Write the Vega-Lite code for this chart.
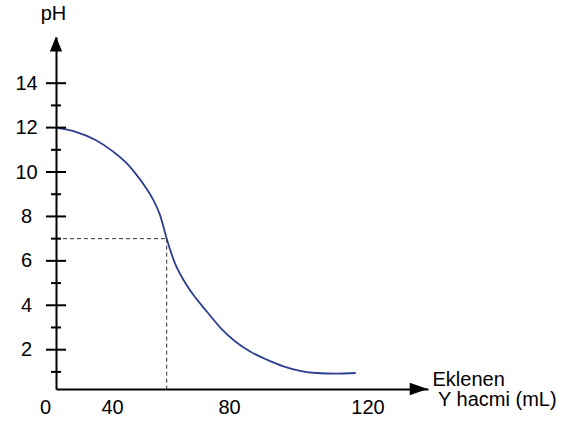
{
  "$schema": "https://vega.github.io/schema/vega-lite/v6.json",
  "width": 372,
  "height": 352,
  "autosize": {"type": "none"},
  "padding": {"left": 56, "top": 37, "right": 159, "bottom": 32},
  "background": "white",
  "config": {
    "view": {"stroke": null},
    "font": "Liberation Sans"
  },
  "datasets": {
    "curve": [
      {"hacim": 0, "pH": 12.0},
      {"hacim": 13.6, "pH": 11.82},
      {"hacim": 27.9, "pH": 11.45},
      {"hacim": 40.4, "pH": 10.92},
      {"hacim": 45.0, "pH": 10.4},
      {"hacim": 48.4, "pH": 9.87},
      {"hacim": 51.3, "pH": 9.35},
      {"hacim": 54.1, "pH": 8.75},
      {"hacim": 56.4, "pH": 8.07},
      {"hacim": 58.7, "pH": 7.0},
      {"hacim": 61.5, "pH": 5.9},
      {"hacim": 64.4, "pH": 5.15},
      {"hacim": 67.8, "pH": 4.47},
      {"hacim": 72.4, "pH": 3.72},
      {"hacim": 77.5, "pH": 2.93},
      {"hacim": 82.0, "pH": 2.35},
      {"hacim": 86.1, "pH": 1.92},
      {"hacim": 90.9, "pH": 1.55},
      {"hacim": 95.7, "pH": 1.25},
      {"hacim": 100.5, "pH": 1.05},
      {"hacim": 105.3, "pH": 0.95},
      {"hacim": 111.1, "pH": 0.92},
      {"hacim": 116.6, "pH": 0.95}
    ],
    "major": [{"v": 2}, {"v": 4}, {"v": 6}, {"v": 8}, {"v": 10}, {"v": 12}, {"v": 14}],
    "minor": [{"v": 1}, {"v": 3}, {"v": 5}, {"v": 7}, {"v": 9}, {"v": 11}, {"v": 13}],
    "one": [{}]
  },
  "layer": [
    {
      "data": {"name": "curve"},
      "mark": {"type": "line", "interpolate": "monotone", "color": "#2E3F92", "strokeWidth": 1.8},
      "encoding": {
        "x": {
          "field": "hacim",
          "type": "quantitative",
          "scale": {"domain": [0, 40, 80, 120, 137.5], "range": [0, 56, 173, 311.5, 372], "nice": false, "zero": false},
          "axis": {
            "values": [0, 40, 80, 120],
            "ticks": false,
            "tickSize": 0,
            "grid": false,
            "domain": true,
            "domainColor": "#000000",
            "domainWidth": 2,
            "labelFont": "Liberation Sans",
            "labelFontSize": 20,
            "labelColor": "#000000",
            "labelPadding": 8,
            "labelFlush": false,
            "labelOverlap": false,
            "labelOffset": {"condition": {"test": "datum.value === 0", "value": -11}, "value": 0},
            "title": ["Eklenen", "\u200b\u00a0Y hacmi (mL)"],
            "titleFont": "Liberation Sans",
            "titleFontSize": 20,
            "titleFontWeight": "normal",
            "titleColor": "#000000",
            "titleAlign": "left",
            "titleAnchor": null,
            "titleAngle": 0,
            "titleBaseline": "alphabetic",
            "titleLineHeight": 20,
            "titleX": 376,
            "titleY": -4
          }
        },
        "y": {
          "field": "pH",
          "type": "quantitative",
          "scale": {"domain": [0.23, 16.08], "nice": false, "zero": false},
          "axis": {
            "values": [2, 4, 6, 8, 10, 12, 14],
            "ticks": false,
            "tickSize": 0,
            "grid": false,
            "domain": true,
            "domainColor": "#000000",
            "domainWidth": 2,
            "labelFont": "Liberation Sans",
            "labelFontSize": 20,
            "labelColor": "#000000",
            "labelAlign": "center",
            "labelPadding": 30,
            "labelFlush": false,
            "labelOverlap": false,
            "title": "pH",
            "titleFont": "Liberation Sans",
            "titleFontSize": 20,
            "titleFontWeight": "normal",
            "titleColor": "#000000",
            "titleAngle": 0,
            "titleAlign": "center",
            "titleAnchor": null,
            "titleBaseline": "alphabetic",
            "titleX": -3,
            "titleY": -18
          }
        }
      }
    },
    {
      "data": {"name": "one"},
      "mark": {"type": "rule", "color": "#333333", "strokeWidth": 1, "strokeDash": [4, 3]},
      "encoding": {
        "x": {"datum": 0},
        "x2": {"datum": 58.7},
        "y": {"datum": 7}
      }
    },
    {
      "data": {"name": "one"},
      "mark": {"type": "rule", "color": "#333333", "strokeWidth": 1, "strokeDash": [4, 3]},
      "encoding": {
        "x": {"datum": 58.7},
        "y": {"datum": 7},
        "y2": {"datum": 0.23}
      }
    },
    {
      "data": {"name": "major"},
      "mark": {"type": "point", "shape": "M-1,0L1,0", "size": 400, "filled": false, "stroke": "#000000", "strokeWidth": 2, "opacity": 1},
      "encoding": {
        "x": {"datum": 0},
        "y": {"field": "v", "type": "quantitative"}
      }
    },
    {
      "data": {"name": "minor"},
      "mark": {"type": "point", "shape": "M-1,0L1,0", "size": 100, "filled": false, "stroke": "#000000", "strokeWidth": 2, "opacity": 1},
      "encoding": {
        "x": {"datum": 0},
        "y": {"field": "v", "type": "quantitative"}
      }
    },
    {
      "data": {"name": "one"},
      "mark": {"type": "point", "shape": "M1,0L-1,-0.7L-1,0.7Z", "size": 324, "filled": true, "fill": "#000000", "strokeWidth": 0, "opacity": 1},
      "encoding": {
        "x": {"datum": 134.8},
        "y": {"datum": 0.23}
      }
    },
    {
      "data": {"name": "one"},
      "mark": {"type": "point", "shape": "M0,-1L-0.82,1L0.82,1Z", "size": 225, "filled": true, "fill": "#000000", "strokeWidth": 0, "opacity": 1},
      "encoding": {
        "x": {"datum": 0},
        "y": {"datum": 15.76}
      }
    }
  ]
}
